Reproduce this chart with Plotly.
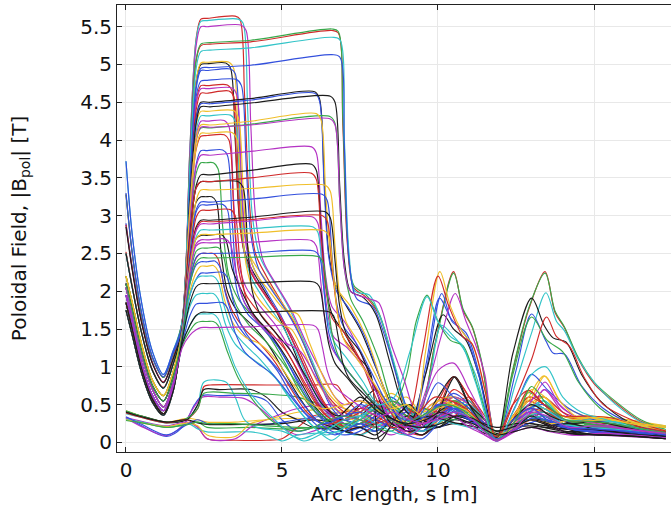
import plotly.graph_objects as go

# ---------------- data ----------------
# shared knot positions along the arc length s [m]
HEAD_S = [0, 0.2, 0.5, 0.85, 1.2, 1.5, 1.8, 2.05, 2.25, 2.4]
TAIL_S = [7.5, 8.0, 8.5, 9.0, 9.5, 10.0, 10.5, 11.0, 11.5, 11.88,
          12.4, 12.9, 13.4, 14.0, 14.7, 15.5, 16.4, 17.3]

# curves with a long plateau (to s ~ 6-7 m): (head values, (s, |B|) knots, tail values)
LONG_PLATEAU = [
    ([2.88, 2.3, 1.6, 1.05, 0.8, 1.1, 1.6, 3.7, 5.05, 5.25],
     [(2.7, 5.27), (4.0, 5.3), (6.6, 5.45), (6.8, 5.42), (6.95, 4.2), (7.1, 2.6), (7.3, 2.05), (7.7, 1.92),
      (8.1, 1.7), (8.6, 1.0), (9.0, 0.45), (9.4, 0.4), (9.9, 1.3), (10.5, 2.26), (10.8, 1.75), (11.1, 1.52),
      (11.4, 1.05), (11.88, 0.03), (12.4, 0.95), (12.9, 1.75), (13.43, 2.26), (13.75, 1.72), (14.05, 1.52),
      (14.5, 1.1), (15.0, 0.78), (15.7, 0.52), (16.5, 0.28), (17.3, 0.15)], []),
    ([3.28, 2.5, 1.7, 1.12, 0.86, 1.16, 1.6, 3.7, 5.07, 5.27],
     [(2.7, 5.29), (4.0, 5.32), (6.6, 5.47), (6.8, 5.44), (6.95, 4.3), (7.1, 2.7), (7.3, 2.08), (7.7, 1.95),
      (8.1, 1.72), (8.6, 1.02), (9.0, 0.47), (9.4, 0.42), (9.9, 1.28), (10.5, 2.24), (10.8, 1.77), (11.1, 1.53),
      (11.4, 1.07), (11.88, 0.04), (12.4, 0.97), (12.9, 1.77), (13.43, 2.24), (13.75, 1.74), (14.05, 1.53),
      (14.5, 1.12), (15.0, 0.8), (15.7, 0.54), (16.5, 0.3), (17.3, 0.17)], []),
    ([2.5, 2.05, 1.45, 0.95, 0.72, 1.02, 1.6, 3.65, 4.95, 5.17],
     [(2.7, 5.19), (4.0, 5.22), (6.6, 5.36), (6.85, 5.33), (7.0, 4.0), (7.15, 2.5), (7.35, 2.0), (7.8, 1.95),
      (8.2, 1.6), (8.7, 0.9), (9.1, 0.35), (9.6, 0.6), (10.1, 1.55), (10.4, 1.45), (10.8, 1.25), (11.2, 0.9),
      (11.88, 0.04), (12.5, 0.8), (13.0, 1.45), (13.46, 1.98), (13.8, 1.6), (14.05, 1.48), (14.5, 1.1),
      (15.0, 0.8), (15.7, 0.5), (16.5, 0.27), (17.3, 0.16)], []),
    ([3.72, 2.75, 1.85, 1.2, 0.9, 1.2, 1.55, 3.45, 4.72, 4.95],
     [(2.7, 4.96), (4.0, 4.99), (6.6, 5.13), (6.85, 5.1), (7.0, 3.9), (7.15, 2.4), (7.4, 1.9), (7.9, 1.8),
      (8.3, 1.4), (8.8, 0.7), (9.2, 0.3), (9.6, 0.9), (10.12, 1.97), (10.45, 1.6), (10.9, 1.45), (11.3, 0.95),
      (11.88, 0.03), (12.5, 0.95), (13.0, 1.7), (13.45, 1.35), (13.7, 1.18), (14.05, 1.17), (14.6, 0.75),
      (15.3, 0.45), (16.2, 0.25), (17.3, 0.12)], []),
    ([2.85, 2.28, 1.58, 1.04, 0.79, 1.09, 1.5, 3.25, 4.3, 4.5],
     [(2.7, 4.5), (4.0, 4.55), (6.05, 4.64), (6.2, 4.55), (6.35, 3.5), (6.5, 2.5), (6.7, 2.1), (7.0, 1.85),
      (7.5, 1.5), (8.0, 1.0), (8.5, 0.5), (9.0, 0.15), (9.6, 0.9), (10.16, 1.69), (10.5, 1.5), (10.9, 1.35),
      (11.3, 0.9), (11.88, 0.05), (12.4, 1.18), (13.0, 1.91), (13.4, 1.55), (13.7, 1.38), (14.1, 1.33),
      (14.6, 0.9), (15.2, 0.55), (16.2, 0.25), (17.3, 0.1)], []),
    ([3.3, 2.52, 1.72, 1.13, 0.87, 1.17, 1.5, 3.25, 4.28, 4.48],
     [(2.7, 4.48), (4.0, 4.53), (6.05, 4.62), (6.2, 4.52), (6.35, 3.4), (6.5, 2.45), (6.75, 2.0), (7.1, 1.8),
      (7.6, 1.45), (8.1, 0.9), (8.6, 0.4), (9.1, 0.2), (9.6, 1.0), (10.05, 1.91), (10.4, 1.65), (10.9, 1.4),
      (11.3, 0.9), (11.88, 0.02), (12.5, 0.5), (13.0, 0.9), (13.5, 0.7), (14.2, 0.45), (15.0, 0.3),
      (16.0, 0.22), (17.3, 0.1)], []),
    ([2.5, 2.05, 1.45, 0.95, 0.72, 1.02, 1.5, 3.2, 4.22, 4.44],
     [(2.7, 4.44), (4.0, 4.49), (6.55, 4.58), (6.7, 4.5), (6.85, 3.4), (7.0, 2.4), (7.2, 2.0), (7.6, 1.92),
      (8.0, 1.7), (8.5, 1.0), (9.0, 0.4), (9.5, 0.3), (10.0, 0.6), (10.5, 0.87), (11.0, 0.5), (11.5, 0.3),
      (11.88, 0.05), (12.4, 0.3), (13.0, 0.5), (13.6, 0.35), (14.3, 0.25), (15.0, 0.28), (16.0, 0.2),
      (17.3, 0.08)], []),
    ([2.2, 1.85, 1.3, 0.82, 0.62, 0.92, 1.5, 3.1, 4.0, 4.16],
     [(2.7, 4.16), (4.0, 4.21), (6.55, 4.31), (6.7, 4.22), (6.85, 3.2), (7.0, 2.3), (7.2, 1.9), (7.6, 1.6),
      (8.1, 1.1), (8.6, 0.5), (9.0, 0.9), (9.3, 1.6), (9.65, 1.95), (10.0, 1.6), (10.4, 1.35), (10.8, 1.28),
      (11.3, 0.7), (11.88, 0.03), (12.4, 0.9), (13.0, 1.66), (13.5, 1.35), (14.0, 1.2), (14.5, 0.8),
      (15.2, 0.45), (16.2, 0.22), (17.3, 0.13)], []),
    ([2.1, 1.75, 1.2, 0.75, 0.55, 0.85, 1.5, 3.1, 4.0, 4.17],
     [(2.7, 4.17), (4.0, 4.2), (6.55, 4.28), (6.7, 4.2), (6.85, 3.2), (7.0, 2.3), (7.2, 2.0), (7.8, 1.9),
      (8.1, 1.85), (8.5, 1.3), (8.9, 0.85), (9.3, 0.4), (9.7, 0.8), (10.1, 1.4), (10.55, 1.97), (10.9, 1.6),
      (11.2, 1.3), (11.5, 0.9), (11.88, 0.05), (12.5, 0.3), (13.0, 0.55), (13.43, 0.8), (13.9, 0.5),
      (14.6, 0.3), (15.5, 0.22), (16.5, 0.15), (17.3, 0.1)], []),
    ([2.05, 1.7, 1.15, 0.7, 0.47, 0.77, 1.5, 3.1, 4.02, 4.2],
     [(2.7, 4.2), (4.0, 4.25), (6.1, 4.35), (6.25, 4.27), (6.4, 3.3), (6.55, 2.5), (6.75, 2.05), (7.2, 1.8),
      (7.7, 1.4), (8.2, 0.8), (8.7, 0.3), (9.2, 0.25), (9.6, 1.2), (10.06, 2.26), (10.4, 1.8), (10.8, 1.45),
      (11.1, 1.3), (11.5, 0.7), (11.88, 0.04), (12.4, 0.35), (13.0, 0.6), (13.43, 0.88), (13.9, 0.55),
      (14.6, 0.3), (15.5, 0.3), (16.5, 0.22), (17.3, 0.16)], []),
    ([1.95, 1.6, 1.05, 0.62, 0.42, 0.72, 1.5, 2.85, 3.65, 3.8],
     [(2.7, 3.8), (4.0, 3.85), (5.95, 3.91), (6.1, 3.83), (6.25, 3.0), (6.4, 2.2), (6.6, 1.8), (7.0, 1.6),
      (7.5, 1.2), (8.0, 0.7), (8.5, 0.3), (9.0, 0.15), (9.5, 0.5), (10.0, 0.95), (10.5, 1.05), (11.0, 0.7),
      (11.5, 0.3), (11.88, 0.02), (12.5, 0.25), (13.0, 0.45), (13.5, 0.3), (14.2, 0.2), (15.0, 0.15),
      (16.0, 0.12), (17.3, 0.06)], []),
    ([1.85, 1.5, 0.98, 0.57, 0.38, 0.68, 1.5, 2.75, 3.4, 3.54],
     [(2.7, 3.54), (4.0, 3.6), (5.95, 3.68), (6.1, 3.6), (6.25, 2.8), (6.4, 2.1), (6.6, 1.7), (7.0, 1.45),
      (7.4, 1.15), (7.82, 0.94), (8.14, 0.02), (8.6, 0.3), (9.1, 0.5), (9.6, 0.2), (10.0, 0.4), (10.55, 0.87),
      (11.0, 0.5), (11.5, 0.2), (11.88, 0.06), (12.5, 0.2), (13.0, 0.35), (13.6, 0.2), (14.5, 0.18),
      (15.5, 0.15), (16.5, 0.1), (17.3, 0.05)], []),
    ([1.75, 1.42, 0.92, 0.53, 0.36, 0.66, 1.45, 2.7, 3.37, 3.45],
     [(2.7, 3.45), (4.0, 3.5), (5.95, 3.56), (6.1, 3.48), (6.25, 2.7), (6.4, 2.05), (6.6, 1.65), (7.0, 1.45),
      (7.5, 1.1), (8.0, 0.6), (8.5, 0.2), (9.0, 0.3), (9.5, 1.2), (10.0, 2.2), (10.35, 1.8), (10.8, 1.4),
      (11.1, 1.3), (11.5, 0.7), (11.88, 0.03), (12.4, 0.5), (13.0, 1.1), (13.48, 1.66), (13.8, 1.4),
      (14.2, 1.28), (14.7, 0.85), (15.3, 0.5), (16.2, 0.3), (17.3, 0.15)], []),
    ([2.2, 1.85, 1.3, 0.82, 0.62, 0.92, 1.45, 2.55, 3.2, 3.34],
     [(2.7, 3.34), (4.0, 3.36), (6.4, 3.4), (6.55, 3.32), (6.7, 2.6), (6.85, 1.95), (7.05, 1.6), (7.5, 1.3),
      (8.0, 0.9), (8.5, 0.5), (9.0, 0.25), (9.5, 0.3), (10.0, 0.55), (10.5, 0.6), (11.0, 0.4), (11.5, 0.2),
      (11.88, 0.05), (12.5, 0.4), (13.0, 0.7), (13.43, 0.6), (14.0, 0.35), (14.8, 0.33), (15.7, 0.3),
      (16.5, 0.25), (17.3, 0.2)], []),
    ([2.05, 1.7, 1.15, 0.7, 0.47, 0.77, 1.45, 2.5, 3.08, 3.18],
     [(2.7, 3.18), (4.0, 3.22), (6.3, 3.28), (6.45, 3.2), (6.6, 2.5), (6.75, 1.85), (6.95, 1.55), (7.4, 1.3),
      (7.9, 0.9), (8.4, 0.5), (8.9, 0.3), (9.4, 0.35), (10.0, 0.79), (10.5, 0.6), (11.0, 0.45), (11.5, 0.15),
      (11.88, 0.03), (12.4, 0.3), (13.0, 0.45), (13.5, 0.3), (14.2, 0.18), (15.0, 0.15), (16.0, 0.12),
      (17.3, 0.08)], []),
    ([2.1, 1.75, 1.2, 0.75, 0.55, 0.85, 1.45, 2.4, 2.85, 2.94],
     [(2.7, 2.94), (4.0, 2.98), (6.4, 3.05), (6.55, 2.97), (6.7, 2.4), (6.85, 1.8), (7.05, 1.45), (7.5, 1.2),
      (8.0, 0.7), (8.4, 0.3), (8.8, 0.2), (9.3, 0.3), (9.8, 0.35), (10.2, 0.3), (10.7, 0.25), (11.2, 0.28),
      (11.88, 0.2), (12.5, 0.25), (13.0, 0.25), (13.5, 0.22), (14.2, 0.25), (15.0, 0.18), (16.0, 0.12),
      (17.3, 0.08)], []),
    ([1.85, 1.5, 0.98, 0.57, 0.38, 0.68, 1.45, 2.4, 2.82, 2.92],
     [(2.7, 2.92), (4.0, 2.95), (6.3, 3.0), (6.45, 2.93), (6.6, 2.35), (6.75, 1.8), (6.95, 1.4), (7.4, 1.15),
      (7.9, 0.8), (8.4, 0.45), (8.9, 0.2), (9.4, 0.4), (9.9, 0.6), (10.4, 0.55), (10.9, 0.45), (11.4, 0.25),
      (11.88, 0.08), (12.4, 0.5), (12.9, 0.69), (13.4, 0.5), (14.0, 0.35), (14.8, 0.35), (15.6, 0.32),
      (16.5, 0.2), (17.3, 0.12)], []),
    ([1.95, 1.6, 1.05, 0.62, 0.42, 0.72, 1.45, 2.35, 2.8, 2.89],
     [(2.7, 2.89), (4.0, 2.93), (6.0, 2.98), (6.15, 2.9), (6.3, 2.3), (6.45, 1.75), (6.65, 1.4), (7.1, 1.25),
      (7.6, 1.0), (8.1, 0.6), (8.6, 0.25), (9.1, 0.1), (9.6, 0.25), (10.1, 0.4), (10.5, 0.35), (11.0, 0.2),
      (11.5, 0.1), (11.88, 0.02), (12.4, 0.15), (13.0, 0.3), (13.5, 0.25), (14.3, 0.1), (15.2, 0.12),
      (16.2, 0.1), (17.3, 0.06)], []),
    ([1.75, 1.42, 0.92, 0.53, 0.36, 0.66, 1.45, 2.3, 2.72, 2.81],
     [(2.7, 2.81), (4.0, 2.83), (6.0, 2.85), (6.15, 2.78), (6.3, 2.2), (6.45, 1.65), (6.65, 1.35), (7.1, 1.1),
      (7.6, 0.8), (8.1, 0.5), (8.6, 0.6), (9.1, 1.2), (9.65, 1.93), (10.0, 1.6), (10.4, 1.4), (10.75, 1.3),
      (11.2, 0.8), (11.88, 0.02), (12.4, 0.4), (13.0, 0.9), (13.46, 1.0), (14.0, 0.6), (14.6, 0.4),
      (15.4, 0.3), (16.3, 0.2), (17.3, 0.12)], []),
    ([2.2, 1.85, 1.3, 0.82, 0.62, 0.92, 1.45, 2.3, 2.7, 2.75],
     [(2.7, 2.75), (4.0, 2.77), (6.35, 2.8), (6.5, 2.73), (6.65, 2.2), (6.8, 1.65), (7.0, 1.35), (7.5, 1.05),
      (8.0, 0.75), (8.5, 0.45), (9.0, 0.5), (9.5, 0.35), (10.0, 0.45), (10.5, 0.5), (11.0, 0.35), (11.5, 0.2),
      (11.88, 0.1), (12.5, 0.2), (13.0, 0.3), (13.6, 0.25), (14.3, 0.3), (15.2, 0.33), (16.2, 0.25),
      (17.3, 0.2)], []),
    ([2.05, 1.7, 1.15, 0.7, 0.47, 0.77, 1.42, 2.25, 2.6, 2.64],
     [(2.7, 2.64), (4.0, 2.65), (5.95, 2.67), (6.1, 2.6), (6.25, 2.1), (6.4, 1.55), (6.6, 1.25), (7.0, 1.0),
      (7.5, 0.75), (8.0, 0.5), (8.5, 0.3), (9.0, 0.2), (9.5, 0.25), (10.0, 0.3), (10.5, 0.35), (11.0, 0.25),
      (11.5, 0.1), (11.88, 0.02), (12.5, 0.15), (13.0, 0.2), (13.5, 0.15), (14.2, 0.1), (15.0, 0.1),
      (16.0, 0.08), (17.3, 0.05)], []),
    ([1.95, 1.6, 1.05, 0.62, 0.42, 0.72, 1.4, 2.15, 2.45, 2.5],
     [(2.7, 2.5), (4.0, 2.51), (6.05, 2.53), (6.2, 2.46), (6.35, 2.0), (6.5, 1.45), (6.7, 1.2), (7.1, 0.95),
      (7.6, 0.7), (8.1, 0.45), (8.6, 0.3), (9.1, 0.25), (9.6, 0.35), (10.1, 0.5), (10.6, 0.4), (11.1, 0.3),
      (11.5, 0.2), (11.88, 0.05), (12.5, 0.2), (13.0, 0.32), (13.5, 0.3), (14.2, 0.2), (15.0, 0.18),
      (16.0, 0.15), (17.3, 0.1)], []),
    ([2.1, 1.75, 1.2, 0.75, 0.55, 0.85, 1.4, 2.1, 2.38, 2.44],
     [(2.7, 2.44), (4.0, 2.45), (6.15, 2.46), (6.3, 2.4), (6.45, 1.95), (6.6, 1.45), (6.8, 1.15), (7.2, 0.9),
      (7.7, 0.65), (8.2, 0.4), (8.7, 0.25), (9.2, 0.3), (9.7, 0.4), (10.2, 0.5), (10.7, 0.45), (11.2, 0.3),
      (11.88, 0.03), (12.5, 0.3), (13.0, 0.74), (13.5, 0.5), (14.1, 0.3), (14.8, 0.28), (15.6, 0.25),
      (16.5, 0.18), (17.3, 0.12)], []),
    ([1.85, 1.5, 0.98, 0.57, 0.38, 0.68, 1.35, 1.85, 2.06, 2.1],
     [(2.7, 2.1), (4.0, 2.11), (6.05, 2.12), (6.2, 2.06), (6.35, 1.7), (6.5, 1.3), (6.7, 1.05), (7.1, 0.85),
      (7.6, 0.6), (8.1, 0.4), (8.6, 0.3), (9.1, 0.22), (9.6, 0.2), (10.1, 0.25), (10.6, 0.35), (11.1, 0.32),
      (11.6, 0.2), (11.88, 0.15), (12.5, 0.22), (13.0, 0.3), (13.5, 0.25), (14.2, 0.12), (15.0, 0.1),
      (16.0, 0.09), (17.3, 0.05)], []),
    ([1.75, 1.42, 0.92, 0.53, 0.36, 0.66, 1.3, 1.55, 1.68, 1.72],
     [(2.7, 1.72), (4.0, 1.72), (6.5, 1.73), (6.65, 1.68), (6.8, 1.4), (6.95, 1.05), (7.15, 0.85), (7.6, 0.65),
      (8.1, 0.45), (8.6, 0.3), (9.1, 0.25), (9.6, 0.3), (10.1, 0.4), (10.6, 0.32), (11.1, 0.25), (11.6, 0.15),
      (11.88, 0.1), (12.5, 0.15), (13.0, 0.2), (13.6, 0.15), (14.3, 0.12), (15.2, 0.1), (16.2, 0.08),
      (17.3, 0.05)], []),
    ([1.95, 1.6, 1.05, 0.62, 0.42, 0.72, 1.25, 1.42, 1.49, 1.52],
     [(2.7, 1.52), (4.0, 1.53), (6.0, 1.55), (6.15, 1.5), (6.3, 1.25), (6.45, 0.95), (6.65, 0.75), (7.1, 0.6),
      (7.6, 0.45), (8.1, 0.35), (8.6, 0.4), (9.1, 0.3), (9.6, 0.25), (10.1, 0.35), (10.6, 0.4), (11.1, 0.3),
      (11.6, 0.1), (11.88, 0.03), (12.5, 0.2), (13.0, 0.4), (13.5, 0.35), (14.2, 0.2), (15.0, 0.22),
      (16.0, 0.18), (17.3, 0.12)], []),
]
LONG_COLORS = "RGCBKBKGMYMKRYBKRMCYMBGKKM"

# curves with a short plateau (ending at s ~ 2.8-3.9 m)
SHORT_PLATEAU = [
    ([3.28, 2.5, 1.7, 1.12, 0.86, 1.16, 1.6, 3.9, 5.35, 5.6],
     [(2.6, 5.61), (3.5, 5.64), (3.65, 5.6), (3.8, 4.6), (3.95, 3.2), (4.15, 2.5), (4.5, 2.2), (5.0, 1.85),
      (5.5, 1.5), (6.0, 1.0), (6.5, 0.6), (7.0, 0.4)],
     [0.3, 0.25, 0.3, 0.15, 0.1, 0.3, 0.55, 0.4, 0.2, 0.03, 0.25, 0.4, 0.35, 0.25, 0.22, 0.2, 0.15, 0.1]),
    ([3.72, 2.75, 1.85, 1.2, 0.9, 1.2, 1.6, 3.9, 5.33, 5.57],
     [(2.6, 5.58), (3.6, 5.6), (3.75, 5.55), (3.9, 4.4), (4.05, 3.0), (4.3, 2.45), (4.7, 2.15), (5.2, 1.8),
      (5.7, 1.35), (6.2, 0.85), (6.6, 0.5), (7.0, 0.35)],
     [0.45, 0.55, 0.4, 0.2, 0.15, 0.35, 0.5, 0.45, 0.25, 0.05, 0.3, 0.45, 0.5, 0.3, 0.3, 0.28, 0.22, 0.17]),
    ([2.88, 2.3, 1.6, 1.05, 0.8, 1.1, 1.6, 3.85, 5.25, 5.5],
     [(2.6, 5.5), (3.7, 5.52), (3.85, 5.45), (4.0, 4.2), (4.15, 3.0), (4.4, 2.4), (4.8, 2.1), (5.3, 1.75),
      (5.8, 1.3), (6.3, 0.9), (6.7, 0.6), (7.0, 0.5)],
     [0.55, 0.45, 0.3, 0.2, 0.35, 0.5, 0.45, 0.3, 0.15, 0.02, 0.2, 0.35, 0.7, 0.45, 0.3, 0.25, 0.18, 0.12]),
    ([2.5, 2.05, 1.45, 0.95, 0.72, 1.02, 1.55, 3.5, 4.78, 5.0],
     [(2.6, 5.01), (3.2, 5.02), (3.35, 4.95), (3.5, 4.0), (3.65, 2.9), (3.9, 2.4), (4.3, 2.1), (4.8, 1.75),
      (5.3, 1.3), (5.8, 0.8), (6.3, 0.45), (7.0, 0.3)],
     [0.5, 0.7, 0.45, 0.2, 0.1, 0.3, 0.4, 0.35, 0.15, 0.05, 0.2, 0.3, 0.25, 0.15, 0.15, 0.12, 0.1, 0.06]),
    ([2.2, 1.85, 1.3, 0.82, 0.62, 0.92, 1.55, 3.5, 4.78, 5.02],
     [(2.6, 5.03), (3.3, 5.03), (3.45, 4.95), (3.6, 3.9), (3.75, 2.9), (4.0, 2.45), (4.4, 2.2), (4.9, 1.9),
      (5.4, 1.6), (5.9, 1.1), (6.4, 0.7), (7.0, 0.45)],
     [0.4, 0.3, 0.45, 0.5, 0.3, 0.35, 0.6, 0.5, 0.3, 0.1, 0.3, 0.5, 0.6, 0.35, 0.35, 0.33, 0.28, 0.2]),
    ([2.9, 2.32, 1.62, 1.06, 0.8, 1.1, 1.55, 3.45, 4.68, 4.92],
     [(2.6, 4.92), (3.35, 4.94), (3.5, 4.88), (3.65, 3.8), (3.8, 2.8), (4.05, 2.35), (4.5, 2.0), (5.0, 1.65),
      (5.5, 1.2), (6.0, 0.75), (6.5, 0.4), (7.0, 0.25)],
     [0.2, 0.15, 0.3, 0.45, 0.35, 0.2, 0.3, 0.4, 0.2, 0.06, 0.15, 0.25, 0.3, 0.2, 0.18, 0.15, 0.12, 0.08]),
    ([2.1, 1.75, 1.2, 0.75, 0.55, 0.85, 1.55, 3.4, 4.58, 4.78],
     [(2.6, 4.79), (3.55, 4.8), (3.7, 4.72), (3.85, 3.7), (4.0, 2.75), (4.25, 2.3), (4.7, 2.0), (5.2, 1.7),
      (5.7, 1.3), (6.2, 0.8), (6.6, 0.45), (7.0, 0.3)],
     [0.35, 0.45, 0.6, 0.4, 0.2, 0.45, 0.65, 0.5, 0.2, 0.04, 0.25, 0.45, 0.4, 0.25, 0.2, 0.18, 0.14, 0.1]),
    ([2.05, 1.7, 1.15, 0.7, 0.47, 0.77, 1.55, 3.35, 4.5, 4.72],
     [(2.6, 4.72), (3.25, 4.73), (3.4, 4.65), (3.55, 3.6), (3.7, 2.7), (3.95, 2.3), (4.4, 2.0), (4.9, 1.7),
      (5.4, 1.35), (5.9, 0.9), (6.4, 0.5), (7.0, 0.2)],
     [0.1, 0.25, 0.4, 0.3, 0.15, 0.3, 0.5, 0.6, 0.35, 0.08, 0.3, 0.55, 0.6, 0.4, 0.3, 0.25, 0.2, 0.15]),
    ([1.95, 1.6, 1.05, 0.62, 0.42, 0.72, 1.55, 3.35, 4.5, 4.68],
     [(2.6, 4.68), (3.4, 4.69), (3.55, 4.6), (3.7, 3.5), (3.85, 2.6), (4.1, 2.2), (4.55, 1.9), (5.05, 1.6),
      (5.5, 1.2), (6.0, 0.75), (6.5, 0.4), (7.0, 0.35)],
     [0.45, 0.5, 0.3, 0.15, 0.25, 0.4, 0.55, 0.45, 0.2, 0.03, 0.2, 0.3, 0.45, 0.3, 0.2, 0.18, 0.15, 0.1]),
    ([2.52, 2.07, 1.46, 0.96, 0.73, 1.03, 1.55, 3.3, 4.4, 4.62],
     [(2.6, 4.62), (3.3, 4.65), (3.45, 4.58), (3.6, 3.5), (3.75, 2.6), (4.0, 2.25), (4.45, 1.95), (4.95, 1.65),
      (5.45, 1.25), (5.95, 0.8), (6.45, 0.45), (7.0, 0.2)],
     [0.25, 0.35, 0.5, 0.35, 0.2, 0.4, 0.7, 0.55, 0.3, 0.05, 0.3, 0.6, 0.5, 0.3, 0.25, 0.22, 0.18, 0.12]),
    ([1.85, 1.5, 0.98, 0.57, 0.38, 0.68, 1.5, 3.15, 4.12, 4.32],
     [(2.6, 4.32), (3.35, 4.33), (3.5, 4.25), (3.65, 3.3), (3.8, 2.5), (4.05, 2.15), (4.5, 1.85), (5.0, 1.55),
      (5.5, 1.15), (6.0, 0.7), (6.5, 0.35), (7.0, 0.15)],
     [0.1, 0.2, 0.35, 0.5, 0.4, 0.3, 0.45, 0.55, 0.3, 0.05, 0.2, 0.4, 0.55, 0.3, 0.25, 0.2, 0.15, 0.12]),
    ([2.2, 1.85, 1.3, 0.82, 0.62, 0.92, 1.5, 3.2, 4.22, 4.38],
     [(2.6, 4.38), (3.45, 4.39), (3.6, 4.3), (3.75, 3.4), (3.9, 2.6), (4.15, 2.25), (4.6, 2.0), (5.1, 1.75),
      (5.5, 1.7), (5.9, 1.3), (6.4, 0.8), (7.0, 0.45)],
     [0.35, 0.3, 0.5, 0.6, 0.35, 0.25, 0.4, 0.3, 0.15, 0.05, 0.25, 0.45, 0.6, 0.35, 0.3, 0.3, 0.26, 0.2]),
    ([2.1, 1.75, 1.2, 0.75, 0.55, 0.85, 1.5, 3.15, 4.05, 4.25],
     [(2.6, 4.25), (3.15, 4.26), (3.3, 4.18), (3.45, 3.2), (3.6, 2.4), (3.85, 2.05), (4.3, 1.8), (4.8, 1.55),
      (5.3, 1.2), (5.8, 0.8), (6.3, 0.45), (7.0, 0.25)],
     [0.3, 0.4, 0.55, 0.4, 0.2, 0.3, 0.5, 0.4, 0.2, 0.04, 0.2, 0.35, 0.45, 0.3, 0.2, 0.2, 0.15, 0.1]),
    ([2.05, 1.7, 1.15, 0.7, 0.47, 0.77, 1.5, 3.0, 3.88, 4.05],
     [(2.6, 4.06), (3.15, 4.07), (3.3, 4.0), (3.45, 3.1), (3.6, 2.3), (3.85, 1.95), (4.3, 1.7), (4.8, 1.45),
      (5.3, 1.1), (5.8, 0.7), (6.3, 0.4), (7.0, 0.2)],
     [0.2, 0.3, 0.2, 0.1, 0.25, 0.45, 0.87, 0.6, 0.3, 0.05, 0.35, 0.6, 0.5, 0.3, 0.25, 0.22, 0.18, 0.13]),
    ([1.75, 1.42, 0.92, 0.53, 0.36, 0.66, 1.5, 3.0, 3.9, 4.09],
     [(2.6, 4.09), (3.4, 4.1), (3.55, 4.02), (3.7, 3.1), (3.85, 2.35), (4.1, 2.0), (4.55, 1.75), (5.05, 1.55),
      (5.3, 1.5), (5.7, 1.2), (6.2, 0.75), (7.0, 0.35)],
     [0.3, 0.5, 0.65, 0.5, 0.3, 0.4, 0.55, 0.45, 0.25, 0.1, 0.3, 0.6, 0.88, 0.5, 0.35, 0.3, 0.25, 0.2]),
    ([1.95, 1.6, 1.05, 0.62, 0.42, 0.72, 1.5, 2.85, 3.68, 3.86],
     [(2.6, 3.86), (3.1, 3.87), (3.25, 3.8), (3.4, 2.95), (3.55, 2.2), (3.8, 1.85), (4.25, 1.6), (4.75, 1.35),
      (5.25, 1.0), (5.75, 0.6), (6.3, 0.3), (7.0, 0.15)],
     [0.2, 0.35, 0.45, 0.3, 0.2, 0.5, 0.45, 0.3, 0.15, 0.02, 0.2, 0.4, 0.35, 0.2, 0.15, 0.12, 0.1, 0.07]),
    ([1.85, 1.5, 0.98, 0.57, 0.38, 0.68, 1.5, 2.8, 3.56, 3.7],
     [(2.55, 3.7), (2.8, 3.7), (2.95, 3.62), (3.1, 2.85), (3.3, 2.2), (3.6, 1.9), (4.1, 1.65), (4.6, 1.4),
      (5.1, 1.05), (5.6, 0.65), (6.2, 0.35), (7.0, 0.2)],
     [0.25, 0.4, 0.5, 0.35, 0.25, 0.35, 0.55, 0.45, 0.25, 0.05, 0.3, 0.66, 0.5, 0.3, 0.25, 0.2, 0.16, 0.12]),
    ([2.2, 1.85, 1.3, 0.82, 0.62, 0.92, 1.45, 2.7, 3.37, 3.45],
     [(2.6, 3.45), (3.6, 3.45), (3.75, 3.38), (3.9, 2.6), (4.05, 2.0), (4.3, 1.7), (4.8, 1.45), (5.3, 1.2),
      (5.8, 0.85), (6.3, 0.5), (6.8, 0.35), (7.1, 0.45)],
     [0.6, 0.45, 0.3, 0.15, 0.2, 0.4, 0.5, 0.35, 0.2, 0.05, 0.15, 0.25, 0.2, 0.15, 0.12, 0.1, 0.08, 0.06]),
    ([2.1, 1.75, 1.2, 0.75, 0.55, 0.85, 1.45, 2.55, 3.18, 3.25],
     [(2.55, 3.25), (2.75, 3.25), (2.9, 3.18), (3.05, 2.5), (3.25, 2.0), (3.55, 1.75), (4.05, 1.55), (4.55, 1.3),
      (5.05, 0.95), (5.55, 0.6), (6.1, 0.3), (6.6, 0.2), (7.0, 0.15)],
     [0.2, 0.1, 0.3, 0.45, 0.3, 0.2, 0.35, 0.3, 0.15, 0.08, 0.2, 0.3, 0.25, 0.2, 0.2, 0.15, 0.12, 0.08]),
    ([2.05, 1.7, 1.15, 0.7, 0.47, 0.77, 1.45, 2.5, 3.05, 3.14],
     [(2.6, 3.14), (3.1, 3.15), (3.25, 3.08), (3.4, 2.45), (3.6, 1.95), (3.9, 1.7), (4.4, 1.5), (4.9, 1.25),
      (5.4, 0.9), (5.9, 0.55), (6.4, 0.3), (7.0, 0.35)],
     [0.5, 0.4, 0.25, 0.2, 0.35, 0.5, 0.4, 0.3, 0.2, 0.1, 0.25, 0.4, 0.3, 0.2, 0.18, 0.15, 0.12, 0.1]),
    ([1.95, 1.6, 1.05, 0.62, 0.42, 0.72, 1.45, 2.4, 2.98, 3.07],
     [(2.6, 3.07), (3.35, 3.08), (3.5, 3.0), (3.65, 2.4), (3.85, 1.9), (4.15, 1.65), (4.65, 1.45), (5.15, 1.2),
      (5.65, 0.85), (6.15, 0.5), (6.6, 0.3), (7.0, 0.3)],
     [0.4, 0.55, 0.45, 0.3, 0.2, 0.35, 0.5, 0.4, 0.2, 0.05, 0.3, 0.69, 0.5, 0.35, 0.3, 0.25, 0.2, 0.15]),
    ([1.85, 1.5, 0.98, 0.57, 0.38, 0.68, 1.45, 2.3, 2.7, 2.74],
     [(2.6, 2.74), (3.05, 2.75), (3.2, 2.68), (3.4, 2.3), (3.6, 2.1), (4.07, 1.71), (4.6, 1.45), (5.1, 1.15),
      (5.6, 0.8), (6.1, 0.45), (6.6, 0.25), (7.0, 0.15)],
     [0.1, 0.05, 0.2, 0.35, 0.3, 0.2, 0.3, 0.25, 0.12, 0.1, 0.18, 0.3, 0.3, 0.2, 0.12, 0.1, 0.08, 0.05]),
    ([1.75, 1.42, 0.92, 0.53, 0.36, 0.66, 1.42, 2.25, 2.63, 2.68],
     [(2.6, 2.68), (3.2, 2.69), (3.35, 2.62), (3.55, 2.2), (3.8, 1.85), (4.2, 1.6), (4.7, 1.4), (5.2, 1.3),
      (5.6, 1.2), (6.1, 0.85), (6.6, 0.5), (7.0, 0.35)],
     [0.3, 0.2, 0.3, 0.4, 0.3, 0.45, 0.6, 0.5, 0.25, 0.05, 0.2, 0.4, 0.3, 0.25, 0.2, 0.2, 0.15, 0.1]),
    ([2.1, 1.75, 1.2, 0.75, 0.55, 0.85, 1.4, 2.2, 2.53, 2.57],
     [(2.6, 2.57), (2.95, 2.58), (3.1, 2.5), (3.3, 2.1), (3.55, 1.8), (3.95, 1.55), (4.45, 1.35), (4.95, 1.1),
      (5.45, 0.8), (5.95, 0.5), (6.5, 0.3), (7.0, 0.25)],
     [0.3, 0.45, 0.55, 0.45, 0.25, 0.3, 0.4, 0.45, 0.3, 0.05, 0.2, 0.3, 0.35, 0.3, 0.25, 0.22, 0.18, 0.14]),
    ([2.05, 1.7, 1.15, 0.7, 0.47, 0.77, 1.4, 2.15, 2.44, 2.5],
     [(2.6, 2.5), (2.8, 2.5), (2.95, 2.43), (3.15, 2.05), (3.4, 1.75), (3.8, 1.5), (4.3, 1.3), (4.8, 1.05),
      (5.3, 0.7), (5.8, 0.4), (6.3, 0.25), (7.0, 0.3)],
     [0.45, 0.35, 0.25, 0.3, 0.45, 0.4, 0.35, 0.5, 0.3, 0.03, 0.3, 0.45, 0.4, 0.3, 0.28, 0.25, 0.2, 0.15]),
    ([1.95, 1.6, 1.05, 0.62, 0.42, 0.72, 1.4, 2.1, 2.35, 2.39],
     [(2.6, 2.39), (2.85, 2.4), (3.0, 2.33), (3.2, 1.95), (3.45, 1.65), (3.85, 1.4), (4.35, 1.2), (4.85, 0.95),
      (5.35, 0.6), (5.85, 0.35), (6.4, 0.25), (7.0, 0.35)],
     [0.4, 0.3, 0.2, 0.1, 0.05, 0.25, 0.45, 0.4, 0.25, 0.1, 0.3, 0.45, 0.5, 0.3, 0.2, 0.18, 0.15, 0.1]),
    ([1.85, 1.5, 0.98, 0.57, 0.38, 0.68, 1.38, 2.0, 2.25, 2.33],
     [(2.6, 2.33), (2.8, 2.34), (2.95, 2.27), (3.15, 1.9), (3.4, 1.6), (3.8, 1.4), (4.3, 1.3), (4.8, 1.1),
      (5.3, 0.8), (5.8, 0.55), (6.3, 0.45), (7.0, 0.5)],
     [0.55, 0.45, 0.3, 0.25, 0.4, 0.55, 0.5, 0.4, 0.2, 0.08, 0.25, 0.35, 0.45, 0.35, 0.32, 0.3, 0.25, 0.2]),
    ([1.75, 1.42, 0.92, 0.53, 0.36, 0.66, 1.38, 1.95, 2.16, 2.24],
     [(2.6, 2.24), (3.1, 2.25), (3.25, 2.18), (3.45, 1.85), (3.7, 1.55), (4.1, 1.3), (4.6, 1.1), (5.1, 0.85),
      (5.6, 0.55), (6.1, 0.3), (6.6, 0.15), (7.0, 0.1)],
     [0.15, 0.3, 0.45, 0.3, 0.15, 0.35, 0.45, 0.3, 0.15, 0.05, 0.15, 0.25, 0.3, 0.2, 0.15, 0.12, 0.1, 0.07]),
    ([2.05, 1.7, 1.15, 0.7, 0.47, 0.77, 1.38, 1.95, 2.16, 2.2],
     [(2.6, 2.2), (2.8, 2.2), (2.95, 2.13), (3.15, 1.8), (3.4, 1.5), (3.8, 1.3), (4.3, 1.1), (4.8, 0.85),
      (5.3, 0.55), (5.8, 0.3), (6.3, 0.1), (6.6, 0.03), (7.0, 0.15)],
     [0.3, 0.5, 0.45, 0.3, 0.2, 0.3, 0.45, 0.5, 0.3, 0.05, 0.25, 0.5, 0.45, 0.3, 0.3, 0.28, 0.24, 0.2]),
    ([1.95, 1.6, 1.05, 0.62, 0.42, 0.72, 1.35, 1.8, 1.95, 1.97],
     [(2.6, 1.97), (2.8, 1.97), (2.95, 1.9), (3.2, 1.55), (3.5, 1.3), (3.9, 1.15), (4.4, 1.0), (4.9, 0.8),
      (5.4, 0.5), (5.9, 0.25), (6.4, 0.1), (7.0, 0.2)],
     [0.35, 0.45, 0.4, 0.25, 0.15, 0.25, 0.4, 0.35, 0.2, 0.04, 0.2, 0.35, 0.4, 0.25, 0.22, 0.2, 0.16, 0.12]),
    ([1.85, 1.5, 0.98, 0.57, 0.38, 0.68, 1.3, 1.68, 1.83, 1.84],
     [(2.6, 1.84), (3.1, 1.85), (3.25, 1.78), (3.5, 1.45), (3.8, 1.2), (4.2, 1.05), (4.7, 0.9), (5.2, 0.65),
      (5.7, 0.4), (6.2, 0.2), (6.7, 0.1), (7.0, 0.15)],
     [0.25, 0.15, 0.3, 0.4, 0.35, 0.3, 0.45, 0.35, 0.2, 0.08, 0.2, 0.35, 0.3, 0.22, 0.2, 0.15, 0.12, 0.08]),
    ([1.75, 1.42, 0.92, 0.53, 0.36, 0.66, 1.28, 1.48, 1.58, 1.6],
     [(2.6, 1.6), (2.8, 1.6), (2.95, 1.55), (3.25, 1.2), (3.6, 0.85), (4.0, 0.6), (4.5, 0.35), (5.0, 0.2),
      (5.5, 0.15), (6.0, 0.2), (6.5, 0.3), (7.0, 0.35)],
     [0.3, 0.2, 0.15, 0.3, 0.45, 0.35, 0.3, 0.4, 0.3, 0.1, 0.2, 0.35, 0.3, 0.25, 0.22, 0.2, 0.16, 0.12]),
    ([1.85, 1.5, 0.98, 0.57, 0.38, 0.68, 1.3, 1.55, 1.68, 1.7],
     [(2.6, 1.7), (2.8, 1.7), (2.95, 1.64), (3.2, 1.35), (3.5, 1.0), (3.9, 0.7), (4.4, 0.45), (4.9, 0.25),
      (5.3, 0.1), (5.7, 0.02), (6.2, 0.1), (7.0, 0.3)],
     [0.35, 0.25, 0.15, 0.1, 0.2, 0.3, 0.25, 0.2, 0.15, 0.1, 0.18, 0.3, 0.35, 0.25, 0.2, 0.18, 0.15, 0.12]),
]
SHORT_COLORS = "RCMKYBBRMRCYMRYBGKKBRKMGRBYBCCBGC"

# curves starting low (|B| ~ 0.3-0.4 T at s = 0)
LOW_START = [
    ([], [(0, 0.42), (0.5, 0.35), (1.3, 0.27), (1.95, 0.32), (2.3, 0.3), (2.6, 0.27), (3.5, 0.27), (4.5, 0.3),
          (5.5, 0.32), (6.5, 0.28), (7.0, 0.3)],
     [0.35, 0.45, 0.5, 0.3, 0.2, 0.35, 0.45, 0.4, 0.25, 0.1, 0.3, 0.45, 0.5, 0.35, 0.33, 0.3, 0.26, 0.21]),
    ([], [(0, 0.4), (0.5, 0.34), (1.3, 0.26), (1.95, 0.31), (2.3, 0.45), (2.5, 0.74), (2.7, 0.76), (4.5, 0.76),
          (6.0, 0.76), (6.75, 0.76), (7.0, 0.6)],
     [0.4, 0.3, 0.2, 0.15, 0.3, 0.55, 0.87, 0.6, 0.3, 0.04, 0.35, 0.55, 0.45, 0.35, 0.3, 0.28, 0.22, 0.15]),
    ([], [(0, 0.3), (0.5, 0.27), (1.3, 0.2), (2.0, 0.25), (2.3, 0.27), (2.6, 0.2), (4.0, 0.2), (5.0, 0.18),
          (6.0, 0.2), (7.0, 0.25)],
     [0.25, 0.2, 0.3, 0.4, 0.3, 0.25, 0.3, 0.35, 0.25, 0.15, 0.2, 0.3, 0.4, 0.3, 0.25, 0.22, 0.18, 0.14]),
    ([], [(0, 0.38), (0.5, 0.33), (1.3, 0.26), (1.95, 0.31), (2.3, 0.5), (2.5, 0.8), (3.2, 0.8), (3.5, 0.6),
          (3.8, 0.3), (4.2, 0.2), (5.0, 0.15), (5.6, 0.05), (6.0, 0.1), (7.0, 0.3)],
     [0.4, 0.5, 0.45, 0.3, 0.2, 0.4, 0.55, 0.45, 0.2, 0.05, 0.3, 0.45, 0.55, 0.35, 0.3, 0.3, 0.26, 0.22]),
    ([], [(0, 0.33), (0.5, 0.22), (1.3, 0.08), (1.8, 0.2), (2.2, 0.5), (2.45, 0.62), (3.0, 0.62), (4.0, 0.62),
          (4.5, 0.55), (5.0, 0.3), (5.5, 0.15), (6.0, 0.2), (7.0, 0.35)],
     [0.45, 0.5, 0.3, 0.15, 0.25, 0.5, 0.6, 0.4, 0.2, 0.03, 0.25, 0.4, 0.45, 0.25, 0.2, 0.16, 0.12, 0.09]),
    ([], [(0, 0.32), (0.5, 0.21), (1.3, 0.09), (1.8, 0.22), (2.2, 0.48), (2.45, 0.6), (3.0, 0.6), (3.8, 0.58),
          (4.3, 0.45), (5.0, 0.2), (5.5, 0.1), (6.0, 0.15), (7.0, 0.3)],
     [0.35, 0.2, 0.1, 0.2, 0.4, 0.55, 0.5, 0.35, 0.15, 0.02, 0.2, 0.35, 0.7, 0.4, 0.25, 0.2, 0.15, 0.1]),
    ([], [(0, 0.41), (0.5, 0.35), (1.3, 0.27), (1.95, 0.3), (2.3, 0.5), (2.5, 0.7), (3.0, 0.7), (4.0, 0.7),
          (4.5, 0.6), (5.0, 0.4), (5.5, 0.3), (6.0, 0.2), (7.0, 0.2)],
     [0.35, 0.5, 0.4, 0.2, 0.1, 0.25, 0.35, 0.3, 0.2, 0.12, 0.2, 0.3, 0.28, 0.2, 0.18, 0.15, 0.12, 0.07]),
    ([], [(0, 0.42), (0.5, 0.35), (1.3, 0.27), (1.95, 0.32), (2.3, 0.45), (2.5, 0.65), (3.5, 0.65), (4.5, 0.64),
          (5.5, 0.6), (6.2, 0.5), (7.0, 0.3)],
     [0.2, 0.15, 0.25, 0.35, 0.3, 0.45, 0.6, 0.5, 0.25, 0.05, 0.25, 0.5, 0.45, 0.3, 0.25, 0.22, 0.18, 0.15]),
    ([], [(0, 0.39), (0.5, 0.33), (1.3, 0.26), (1.95, 0.3), (2.3, 0.2), (2.6, 0.05), (3.5, 0.03), (4.5, 0.03),
          (5.0, 0.05), (5.5, 0.2), (6.0, 0.35), (7.0, 0.4)],
     [0.45, 0.4, 0.25, 0.2, 0.3, 0.45, 0.55, 0.45, 0.25, 0.06, 0.2, 0.35, 0.4, 0.3, 0.28, 0.25, 0.2, 0.16]),
    ([], [(0, 0.33), (0.5, 0.28), (1.3, 0.22), (1.95, 0.27), (2.3, 0.2), (2.6, 0.05), (3.5, 0.05), (4.0, 0.2),
          (4.5, 0.3), (5.5, 0.45), (6.5, 0.5), (7.0, 0.45)],
     [0.35, 0.2, 0.3, 0.45, 0.35, 0.3, 0.4, 0.35, 0.2, 0.05, 0.15, 0.3, 0.35, 0.25, 0.2, 0.18, 0.14, 0.1]),
    ([], [(0, 0.31), (0.5, 0.27), (1.3, 0.21), (2.0, 0.25), (2.3, 0.18), (2.6, 0.14), (3.5, 0.14), (4.0, 0.14),
          (4.5, 0.1), (5.0, 0.02), (5.5, 0.1), (6.0, 0.12), (7.0, 0.15)],
     [0.2, 0.3, 0.4, 0.35, 0.2, 0.3, 0.5, 0.45, 0.25, 0.08, 0.3, 0.5, 0.45, 0.3, 0.3, 0.28, 0.24, 0.2]),
    ([], [(0, 0.3), (0.5, 0.26), (1.3, 0.21), (2.0, 0.26), (2.3, 0.22), (2.6, 0.1), (3.5, 0.08), (4.0, 0.25),
          (4.5, 0.3), (5.5, 0.4), (6.5, 0.45), (7.0, 0.4)],
     [0.3, 0.2, 0.35, 0.5, 0.4, 0.5, 0.6, 0.5, 0.3, 0.1, 0.3, 0.45, 0.5, 0.35, 0.35, 0.33, 0.28, 0.22]),
    ([], [(0, 0.34), (0.5, 0.24), (1.3, 0.1), (1.8, 0.2), (2.3, 0.3), (2.6, 0.25), (3.5, 0.24), (4.5, 0.24),
          (5.5, 0.3), (6.5, 0.35), (7.0, 0.3)],
     [0.25, 0.3, 0.35, 0.25, 0.15, 0.35, 0.45, 0.35, 0.2, 0.05, 0.2, 0.3, 0.3, 0.22, 0.18, 0.15, 0.12, 0.08]),
    ([], [(0, 0.4), (0.5, 0.34), (1.3, 0.27), (1.95, 0.3), (2.3, 0.26), (2.6, 0.24), (4.0, 0.24), (5.0, 0.25),
          (6.0, 0.3), (7.0, 0.25)],
     [0.2, 0.25, 0.3, 0.2, 0.15, 0.2, 0.25, 0.22, 0.18, 0.15, 0.2, 0.22, 0.2, 0.18, 0.15, 0.12, 0.1, 0.06]),
    ([], [(0, 0.29), (0.5, 0.26), (1.3, 0.2), (2.0, 0.24), (2.3, 0.27), (2.6, 0.25), (3.5, 0.25), (4.5, 0.22),
          (5.5, 0.2), (6.5, 0.2), (7.0, 0.22)],
     [0.25, 0.35, 0.45, 0.35, 0.25, 0.3, 0.4, 0.35, 0.25, 0.08, 0.2, 0.3, 0.35, 0.25, 0.25, 0.23, 0.2, 0.17]),
]
LOW_COLORS = "YRGCBMKGRMCYBKG"

X_TICKS = [0, 5, 10, 15]
Y_TICKS = [0, 0.5, 1, 1.5, 2, 2.5, 3, 3.5, 4, 4.5, 5, 5.5]

# ---------------- styling ----------------
PALETTE = {
    "B": "#3350dd", "G": "#38a84a", "R": "#d02a2a", "C": "#33c4c8",
    "M": "#b533c4", "Y": "#f0bf2a", "K": "#1c1c1c",
}

fig = go.Figure()


def add_group(curves, colors):
    for (head, mid, tail), c in zip(curves, colors):
        xs = list(HEAD_S[:len(head)]) + [p[0] for p in mid] + (list(TAIL_S) if tail else [])
        ys = list(head) + [p[1] for p in mid] + list(tail)
        fig.add_trace(go.Scatter(
            x=xs, y=ys, mode="lines",
            line=dict(color=PALETTE[c], width=1.15, shape="spline", smoothing=0.9),
            hoverinfo="skip", showlegend=False))


add_group(LOW_START, LOW_COLORS)
add_group(SHORT_PLATEAU, SHORT_COLORS)
add_group(LONG_PLATEAU, LONG_COLORS)

FONT = "DejaVu Sans"
fig.update_layout(
    width=671, height=506,
    margin=dict(l=117, r=0, t=5, b=54),
    paper_bgcolor="white", plot_bgcolor="white",
    font=dict(family=FONT, size=20, color="#111"),
    showlegend=False,
)
fig.update_xaxes(
    range=[-0.288, 17.468], tickvals=X_TICKS, ticktext=[str(v) for v in X_TICKS],
    showgrid=True, gridcolor="#e8e8e8", gridwidth=1, zeroline=False,
    showline=True, linecolor="#222", linewidth=1, mirror="ticks",
    ticks="inside", ticklen=5, tickcolor="#222",
    tickfont=dict(family=FONT, size=20, color="#111"),
    title=dict(text="Arc length, s [m]", font=dict(family=FONT, size=20, color="#111"), standoff=2),
)
fig.update_yaxes(
    range=[-0.126, 5.787], tickvals=Y_TICKS,
    ticktext=["0", "0.5", "1", "1.5", "2", "2.5", "3", "3.5", "4", "4.5", "5", "5.5"],
    showgrid=True, gridcolor="#e8e8e8", gridwidth=1, zeroline=False,
    showline=True, linecolor="#222", linewidth=1, mirror=False,
    ticks="inside", ticklen=5, tickcolor="#222",
    tickfont=dict(family=FONT, size=20, color="#111"),
    title=dict(text="Poloidal Field, |B<sub>pol</sub>| [T]", font=dict(family=FONT, size=20, color="#111"),
               standoff=48),
)

fig.write_html(
    "out.html",
    config={"displayModeBar": False},
    post_script="document.body.style.margin='0';document.body.style.padding='0';"
                "document.body.style.overflow='hidden';",
)
